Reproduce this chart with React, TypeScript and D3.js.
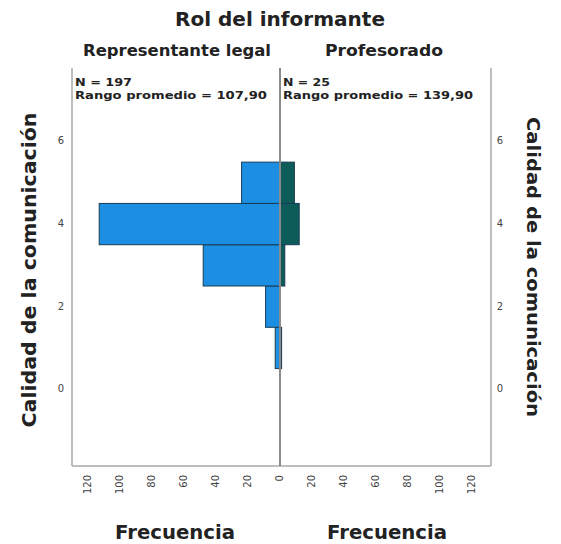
import React from "react";
import * as d3 from "d3";

const bins = [1, 2, 3, 4, 5];
const legalFreq = [3, 9, 48, 113, 24];
const profFreq = [1, 0, 3, 12, 9];
const yTicks = [0, 2, 4, 6];
const xTicks = [0, 20, 40, 60, 80, 100, 120];
const panelTitles = ["Representante legal", "Profesorado"];
const statLines = [
  ["N = 197", "Rango promedio = 107,90"],
  ["N = 25", "Rango promedio = 139,90"],
];

const W = 561;
const H = 544;
const FONT = "'DejaVu Sans', Verdana, sans-serif";

export default function App() {
  const top = 68;
  const bottom = 466;
  const left = 72;
  const mid = 280;
  const right = 491;

  const y = d3.scaleLinear().domain([-1.86, 7.78]).range([bottom, top]);
  const xL = d3.scaleLinear().domain([0, 130]).range([mid, left]);
  const xR = d3.scaleLinear().domain([0, 131.9]).range([mid, right]);

  const blue = "#1c8fe3";
  const teal = "#0e5c5a";
  const stroke = "#173c55";
  const frame = "#a8a8a8";
  const statW = [
    [57, 192],
    [47, 190],
  ];

  return (
    <svg width={W} height={H} style={{ position: "absolute", left: 0, top: 0, background: "#fff" }} fontFamily={FONT}>
      <text x={280} y={26} textAnchor="middle" fontSize={19} fontWeight="bold" fill="#222" textLength={210} lengthAdjust="spacingAndGlyphs">
        Rol del informante
      </text>
      <text x={177} y={56} textAnchor="middle" fontSize={16} fontWeight="bold" fill="#222" textLength={188} lengthAdjust="spacingAndGlyphs">
        {panelTitles[0]}
      </text>
      <text x={384} y={56} textAnchor="middle" fontSize={16} fontWeight="bold" fill="#222" textLength={118} lengthAdjust="spacingAndGlyphs">
        {panelTitles[1]}
      </text>

      {/* bars left */}
      {bins.map((b, i) => (
        <rect
          key={"l" + b}
          x={xL(legalFreq[i])}
          y={y(b + 0.5)}
          width={Math.max(0, xL(0) - xL(legalFreq[i]))}
          height={y(b - 0.5) - y(b + 0.5)}
          fill={blue}
          stroke={stroke}
          strokeWidth={1}
        />
      ))}
      {bins.map((b, i) =>
        profFreq[i] > 0 ? (
          <rect
            key={"r" + b}
            x={xR(0)}
            y={y(b + 0.5)}
            width={xR(profFreq[i]) - xR(0)}
            height={y(b - 0.5) - y(b + 0.5)}
            fill={teal}
            stroke={stroke}
            strokeWidth={1}
          />
        ) : null
      )}

      {/* frame */}
      <line x1={left} x2={left} y1={top} y2={bottom} stroke={frame} strokeWidth={1.5} />
      <line x1={left} x2={right} y1={bottom} y2={bottom} stroke={frame} strokeWidth={1.5} />
      <line x1={right} x2={right} y1={top} y2={bottom} stroke={frame} strokeWidth={1.5} />
      <line x1={mid} x2={mid} y1={top} y2={bottom} stroke="#8a8a8a" strokeWidth={2} />

      {/* stats */}
      {statLines.map((lines, p) =>
        lines.map((t, j) => (
          <text
            key={p + "-" + j}
            x={(p === 0 ? left : mid) + 3}
            y={86 + j * 13}
            fontSize={10}
            fontWeight="bold"
            fill="#222"
            textLength={statW[p][j]}
            lengthAdjust="spacingAndGlyphs"
          >
            {t}
          </text>
        ))
      )}

      {/* y ticks */}
      {yTicks.map((t) => (
        <g key={"yt" + t}>
          <text x={61} y={y(t)} textAnchor="middle" dominantBaseline="middle" fontSize={10} fill="#444">
            {t}
          </text>
          <text x={500} y={y(t)} textAnchor="middle" dominantBaseline="middle" fontSize={10} fill="#444">
            {t}
          </text>
        </g>
      ))}

      {/* x ticks */}
      {xTicks.map((t) => (
        <text
          key={"xl" + t}
          transform={`translate(${xL(t)},${475}) rotate(-90)`}
          textAnchor="end"
          dominantBaseline="middle"
          fontSize={10}
          fill="#444"
        >
          {t}
        </text>
      ))}
      {xTicks
        .filter((t) => t > 0)
        .map((t) => (
          <text
            key={"xr" + t}
            transform={`translate(${xR(t)},${475}) rotate(-90)`}
            textAnchor="end"
            dominantBaseline="middle"
            fontSize={10}
            fill="#444"
          >
            {t}
          </text>
        ))}

      {/* axis titles */}
      <text transform={`translate(36,270) rotate(-90)`} textAnchor="middle" fontSize={19} fontWeight="bold" fill="#222" textLength={315} lengthAdjust="spacingAndGlyphs">
        Calidad de la comunicación
      </text>
      <text transform={`translate(527,267) rotate(90)`} textAnchor="middle" fontSize={18} fontWeight="bold" fill="#222" textLength={300} lengthAdjust="spacingAndGlyphs">
        Calidad de la comunicación
      </text>
      <text x={175} y={539} textAnchor="middle" fontSize={19} fontWeight="bold" fill="#222" textLength={120} lengthAdjust="spacingAndGlyphs">
        Frecuencia
      </text>
      <text x={387} y={539} textAnchor="middle" fontSize={19} fontWeight="bold" fill="#222" textLength={120} lengthAdjust="spacingAndGlyphs">
        Frecuencia
      </text>
    </svg>
  );
}
